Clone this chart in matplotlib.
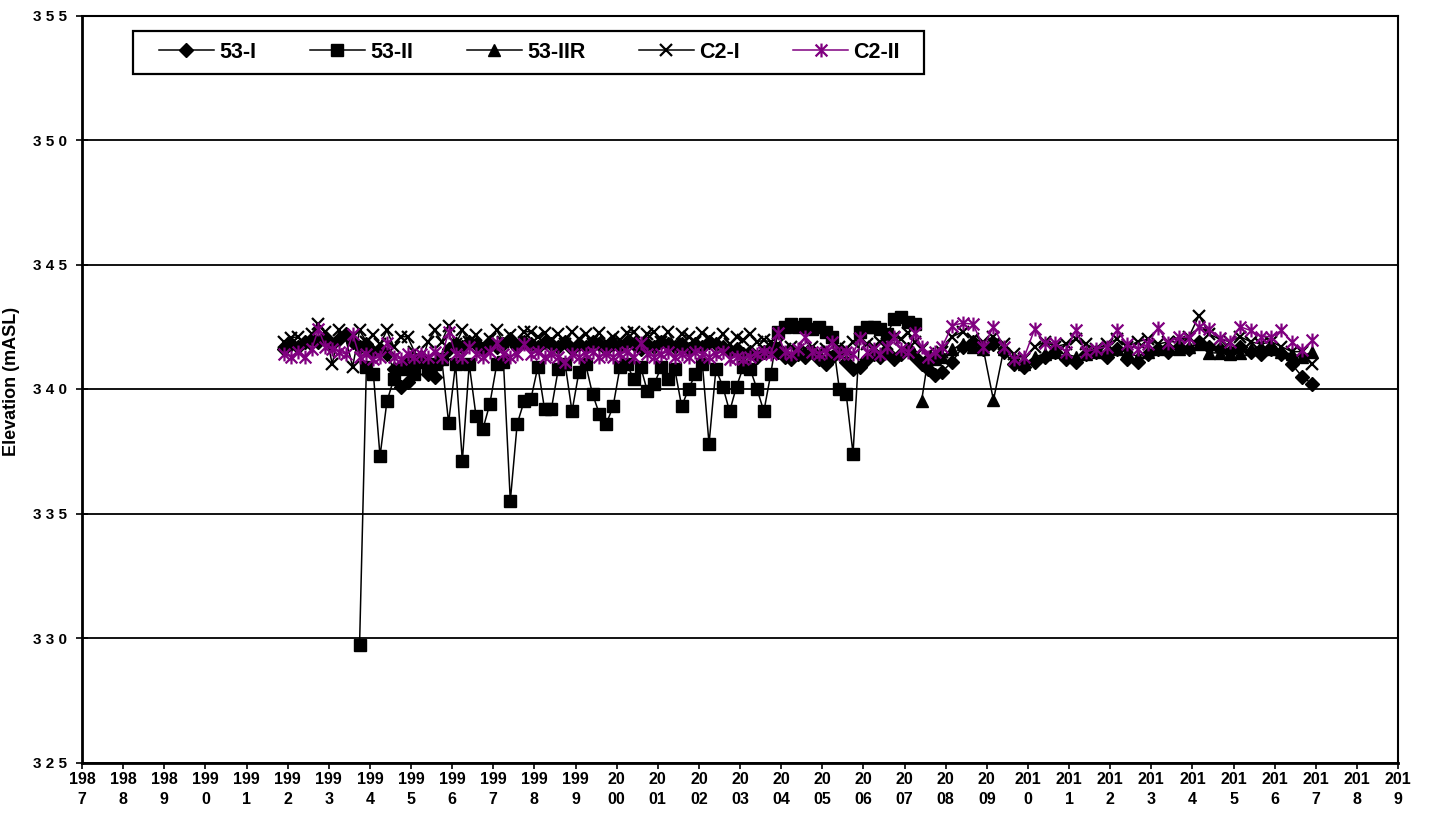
import numpy as np
import pandas as pd
import matplotlib
matplotlib.use("Agg")
import matplotlib.pyplot as plt
from matplotlib.path import Path
from matplotlib.patches import Rectangle

nan = np.nan

# sampling dates: bi-monthly 1991-12 .. 2007-10, quarterly 2007-12 .. 2016-12
sample_dates = pd.date_range("1991-12-01", periods=96, freq="2MS").append(
    pd.date_range("2007-12-01", periods=37, freq="3MS"))

s53_I = [341.6, 341.8, 341.7, 341.9, 342.0, 341.9, 342.1, 341.8, 342.0, 342.2,
         341.9, 341.7, 341.8, 341.5, 341.6, 341.4, 340.8, 340.1, 340.3, 340.9,
         341.3, 340.6, 340.5, 341.2, 341.6, 341.8, 341.7, 341.9, 341.8, 341.6,
         341.9, 341.7, 341.8, 342.0, 341.7, 341.9, 341.8, 341.7, 341.9, 341.8,
         341.7, 341.9, 341.6, 341.8, 341.7, 341.9, 341.8, 341.6, 341.8, 341.7,
         341.9, 341.8, 341.6, 341.8, 341.7, 341.9, 341.8, 341.7, 341.8, 341.6,
         341.8, 341.7, 341.9, 341.8, 341.7, 341.5, 341.6, 341.4, 341.5, 341.3,
         341.5, 341.6, 341.5, 341.3, 341.2, 341.4, 341.3, 341.5, 341.2, 341.0,
         341.3, 341.5, 341.1, 340.8, 340.9, 341.2, 341.4, 341.3, 341.5, 341.2,
         341.4, 341.6, 341.3, 341.0, 340.8, 340.55,
         340.7, 341.1, 341.7, 341.9, 341.6, 341.8, 341.5, 341.0, 340.9, 341.1,
         341.3, 341.5, 341.2, 341.1, 341.4, 341.5, 341.3, 341.6, 341.2, 341.1,
         341.4, 341.6, 341.5, 341.7, 341.6, 341.9, 341.7, 341.6, 341.5, 341.7,
         341.5, 341.4, 341.6, 341.4, 341.0, 340.5, 340.2]

s53_II = [nan] * 11 + [
    329.7, 340.9, 340.6, 337.3, 339.5, 340.4, 340.8, 341.0, 340.6, 341.1,
    340.8, 341.0, 341.2, 338.65, 341.0, 337.1, 341.0, 338.9, 338.4, 339.4,
    341.0, 341.1, 335.5, 338.6, 339.5, 339.6, 340.9, 339.2, 339.2, 340.8,
    341.0, 339.1, 340.7, 341.0, 339.8, 339.0, 338.6, 339.3, 340.9, 341.0,
    340.4, 340.9, 339.9, 340.2, 340.9, 340.4, 340.8, 339.3, 340.0, 340.6,
    341.0, 337.8, 340.8, 340.1, 339.1, 340.1, 340.9, 340.8, 340.0, 339.1,
    340.6, 342.3, 342.5, 342.6, 342.5, 342.6, 342.4, 342.5, 342.3, 342.1,
    340.0, 339.8, 337.4, 342.3, 342.5, 342.5, 342.4, 342.2, 342.8, 342.9,
    342.7, 342.6] + [nan] * 3 + [nan] * 37

s53_IIR = [nan] * 93 + [339.5, 341.3, 341.2] + [
    341.3, 341.6, 341.8, 341.7, 341.6, 339.55, 341.6, 341.2, 341.0, 341.3,
    341.4, 341.5, 341.4, 341.3, 341.4, 341.5, 341.5, 341.6, 341.5, 341.3,
    341.5, 341.6, 341.7, 341.6, 341.7, 341.8, 341.45, 341.45, 341.4, 341.45,
    341.6, 341.7, 341.6, 341.5, 341.4, 341.3, 341.5]

sC2_I = [341.9, 342.05, 342.1, 341.8, 342.2, 342.6, 342.3, 341.0, 342.35, 342.0,
         340.9, 342.35, 341.9, 342.15, 341.8, 342.35, 341.7, 342.1, 342.1, 341.5,
         341.0, 341.9, 342.35, 341.9, 342.55, 341.8, 342.35, 341.9, 342.15, 341.8,
         342.0, 342.35, 341.9, 342.15, 341.9, 342.3, 342.3, 342.1, 342.25, 341.95,
         342.2, 341.8, 342.3, 342.0, 342.2, 341.8, 342.25, 341.9, 342.1, 341.95,
         342.25, 342.3, 341.9, 342.2, 342.3, 341.9, 342.3, 341.8, 342.2, 342.1,
         341.9, 342.25, 342.05, 341.9, 342.2, 341.8, 342.1, 341.95, 342.2, 341.9,
         341.95, 341.9, 341.8, 341.6, 341.7, 341.5, 341.6, 341.7, 341.5, 341.6,
         341.4, 341.7, 341.6, 341.9, 342.0, 341.8, 341.7, 341.9, 341.8, 342.1,
         342.0, 342.25, 341.9, 341.6, 341.4, 341.3,
         341.5, 342.1, 342.3, 342.0, 341.9, 342.1, 341.8, 341.4, 341.2, 341.7,
         341.9, 341.7, 341.8, 342.0, 341.8, 341.6, 341.8, 342.0, 341.7, 341.9,
         342.0, 341.8, 341.9, 341.9, 342.1, 342.95, 342.2, 342.0, 341.9, 342.1,
         341.9, 341.8, 341.9, 341.7, 341.5, 341.5, 341.0]

sC2_II = [341.4, 341.3, 341.5, 341.3, 341.6, 342.4, 341.7, 341.6, 341.5, 341.4,
          342.2, 341.3, 341.4, 341.2, 341.3, 341.85, 341.3, 341.2, 341.4, 341.3,
          341.4, 341.3, 341.5, 341.3, 342.3, 341.4, 341.3, 341.7, 341.4, 341.3,
          341.5, 341.85, 341.4, 341.3, 341.4, 341.8, 341.4, 341.5, 341.3, 341.4,
          341.3, 341.1, 341.4, 341.3, 341.4, 341.5, 341.3, 341.4, 341.3, 341.4,
          341.5, 341.3, 341.85, 341.4, 341.3, 341.4, 341.5, 341.3, 341.4, 341.3,
          341.5, 341.4, 341.3, 341.4, 341.5, 341.2, 341.3, 341.2, 341.3, 341.4,
          341.5, 341.4, 342.25, 341.5, 341.4, 341.6, 342.1, 341.5, 341.4, 341.5,
          341.9, 341.4, 341.5, 341.4, 342.05, 341.5, 341.6, 341.4, 341.7, 342.1,
          341.6, 341.5, 342.25, 341.7, 341.3, 341.5,
          341.7, 342.55, 342.65, 342.6, 341.7, 342.5, 341.7, 341.2, 341.3, 342.4,
          341.85, 341.85, 341.5, 342.35, 341.5, 341.6, 341.7, 342.35, 341.8, 341.6,
          341.8, 342.45, 341.85, 342.1, 342.05, 342.5, 342.4, 342.05, 341.9, 342.5,
          342.35, 342.1, 342.1, 342.35, 341.9, 341.55, 341.95]

series_names = ["53-I", "53-II", "53-IIR", "C2-I", "C2-II"]
series_values = [s53_I, s53_II, s53_IIR, sC2_I, sC2_II]

tick_years = list(range(1987, 2020))
tick_labels = ["198\n7", "198\n8", "198\n9", "199\n0", "199\n1", "199\n2", "199\n3",
               "199\n4", "199\n5", "199\n6", "199\n7", "199\n8", "199\n9", "20\n00",
               "20\n01", "20\n02", "20\n03", "20\n04", "20\n05", "20\n06", "20\n07",
               "20\n08", "20\n09", "201\n0", "201\n1", "201\n2", "201\n3", "201\n4",
               "201\n5", "201\n6", "201\n7", "201\n8", "201\n9"]
y_ticks = [325, 330, 335, 340, 345, 350, 355]
y_tick_labels = ["3 2 5", "3 3 0", "3 3 5", "3 4 0", "3 4 5", "3 5 0", "3 5 5"]

# asterisk marker (x plus vertical bar)
star_path = Path([(0, -1), (0, 1), (-0.85, -0.85), (0.85, 0.85), (-0.85, 0.85), (0.85, -0.85)],
                 [Path.MOVETO, Path.LINETO, Path.MOVETO, Path.LINETO, Path.MOVETO, Path.LINETO])

styles = [
    dict(color="black", marker="D", ms=6.8, mfc="black", mec="black", mew=1),
    dict(color="black", marker="s", ms=8.5, mfc="black", mec="black", mew=1),
    dict(color="black", marker="^", ms=9, mfc="black", mec="black", mew=1),
    dict(color="black", marker="x", ms=9, mec="black", mew=1.6),
    dict(color="#800080", marker=star_path, ms=10, mec="#800080", mew=1.6),
]

fig = plt.figure(figsize=(14.34, 8.17), dpi=100)
ax = fig.add_axes([82 / 1434, 1 - 762.5 / 817, (1398 - 82) / 1434, (762.5 - 15.5) / 817])

handles = []
for name, vals, st in zip(series_names, series_values, styles):
    h, = ax.plot(sample_dates, np.array(vals, dtype=float), lw=1.1, label=name, **st)
    handles.append(h)

tick_dates = [pd.Timestamp(f"{y}-01-01") for y in tick_years]
ax.set_xlim(tick_dates[0], tick_dates[-1])
ax.set_ylim(325, 355)
ax.set_xticks(tick_dates)
ax.set_xticklabels(tick_labels, fontsize=11.5, fontweight="bold",
                   family=["Liberation Sans Narrow", "Liberation Sans"], linespacing=1.45)
ax.set_yticks(y_ticks)
ax.set_yticklabels(y_tick_labels, fontsize=11, fontweight="bold", family="Liberation Sans")
ax.tick_params(axis="x", direction="out", length=4, width=1.2, pad=2.5, colors="black")
ax.tick_params(axis="y", direction="inout", length=9, width=1.2, pad=6, colors="black")

ax.yaxis.grid(True, color="black", lw=1.3)
ax.set_axisbelow(True)
for side, sp in ax.spines.items():
    sp.set_color("black")
    sp.set_linewidth(2 if side in ("left", "bottom") else 1.5)

ax.set_ylabel("Elevation (mASL)", fontsize=13, fontweight="bold", family="Liberation Sans")
ax.yaxis.set_label_coords(-0.047, 0.51)

# legend box
ax.add_patch(Rectangle(((133 - 82) / 1316, (762.5 - 74) / 747), (924 - 133) / 1316, 43 / 747,
                       transform=ax.transAxes, facecolor="white", edgecolor="black",
                       lw=1.6, zorder=6, clip_on=False))
leg = ax.legend(handles=handles, ncol=5, mode="expand", loc="center",
                bbox_to_anchor=((159 - 82) / 1316, (762.5 - 74) / 747, (900 - 159) / 1316, 43 / 747),
                frameon=False, borderpad=0, borderaxespad=0, handlelength=2.55,
                handletextpad=0.25, prop=dict(weight="bold", size=15.5, family="Liberation Sans"))
leg.set_zorder(7)

fig.savefig("out.png", dpi=100, facecolor="white")
